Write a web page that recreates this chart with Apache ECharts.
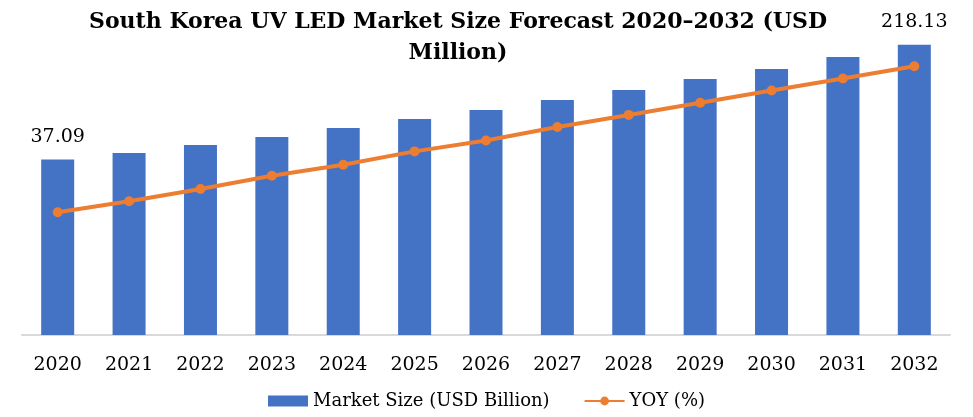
<!DOCTYPE html>
<html>
<head>
<meta charset="utf-8">
<script src="https://cdn.jsdelivr.net/npm/echarts@6/dist/echarts.min.js"></script>
<style>
    html, body { margin: 0; padding: 0; background: #fff; }
    #chart { width: 973px; height: 417px; }
</style>
</head>
<body>
<div id="chart"></div>
<script>
var years = ["2020", "2021", "2022", "2023", "2024", "2025", "2026",
    "2027", "2028", "2029", "2030", "2031", "2032"];

// market size (only first and last are labelled)
var marketSize = [37.09, 47.4, 60.0, 72.6, 86.9, 101.1, 115.3,
    131.1, 146.9, 164.2, 180.0, 199.0, 218.13];

// yoy line (no labels in the source)
var yoy = [10.1, 11.0, 12.0, 13.1, 14.0, 15.1, 16.0,
    17.1, 18.1, 19.1, 20.1, 21.1, 22.1];

var serif = "DejaVu Serif";

var barData = marketSize.map(function (v, i) {
    var showLabel = i === 0 || i === marketSize.length - 1;
    return {
        value: v,
        label: { show: showLabel },
    };
});

var option = {
    animation: false,
    title: {
        text: "South Korea UV LED Market Size Forecast 2020\u20132032 (USD\nMillion)",
        left: 453,
        textAlign: "center",
        top: 2,
        textStyle: {
            fontFamily: serif,
            fontWeight: "bold",
            fontSize: 22,
            lineHeight: 31,
            color: "#000",
        },
    },
    legend: {
        bottom: 2,
        left: "center",
        itemWidth: 40,
        itemHeight: 11,
        itemGap: 34,
        textStyle: {
            fontFamily: serif,
            fontSize: 18,
            color: "#000",
        },
        data: [
            { name: "Market Size (USD Billion)", icon: "rect" },
            "YOY (%)",
        ],
    },
    grid: {
        left: 22,
        right: 23,
        top: 31,
        bottom: 82,
    },
    xAxis: {
        type: "category",
        data: years,
        axisLine: {
            onZero: false,
            lineStyle: { color: "#d9d9d9", width: 2 },
        },
        axisTick: { show: false },
        axisLabel: {
            margin: 21,
            fontFamily: serif,
            fontSize: 19,
            color: "#000",
        },
    },
    yAxis: [
        {
            type: "value",
            min: -240,
            max: 240,
            startValue: -240,
            show: false,
            splitLine: { show: false },
        },
        {
            type: "value",
            min: 0,
            max: 25,
            show: false,
            splitLine: { show: false },
        },
    ],
    series: [
        {
            name: "Market Size (USD Billion)",
            type: "bar",
            barWidth: 33,
            itemStyle: { color: "#4472C4" },
            label: {
                position: "top",
                distance: 13,
                fontFamily: serif,
                fontSize: 19,
                color: "#000",
            },
            data: barData,
        },
        {
            name: "YOY (%)",
            type: "line",
            yAxisIndex: 1,
            symbol: "circle",
            symbolSize: 10,
            lineStyle: { width: 4, color: "#ED7D31" },
            itemStyle: { color: "#ED7D31" },
            data: yoy,
        },
    ],
};

var myChart = echarts.init(document.getElementById("chart"));
option && myChart.setOption(option);
</script>
</body>
</html>
